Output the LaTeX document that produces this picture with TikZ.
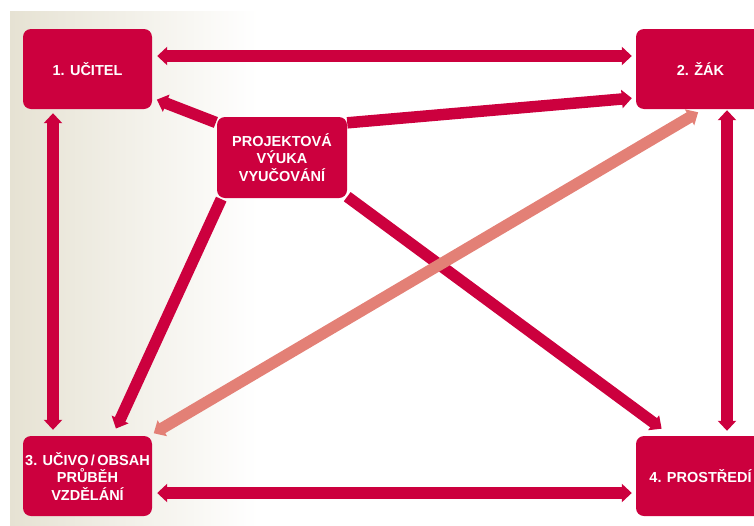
\documentclass[tikz,border=0pt]{standalone}
\usepackage{fontspec}
\setmainfont{Liberation Sans}
\usetikzlibrary{arrows.meta}

\definecolor{crimson}{RGB}{204,0,62}
\definecolor{salmon}{RGB}{227,128,118}
\definecolor{beige}{RGB}{230,226,211}

\begin{document}
\begin{tikzpicture}[
  x=1pt, y=-1pt,
  font=\bfseries\fontsize{14.5}{17.5}\selectfont,
  >={Triangle[width=18pt,length=10pt]},
  box/.style={rectangle, rounded corners=8pt, fill=crimson, text=white, align=center, minimum width=129pt, minimum height=80pt, inner sep=0pt},
  link/.style={line width=11.5pt, draw=crimson, shorten <=4pt, shorten >=4pt},
  softlink/.style={link, draw=salmon}
]
\useasboundingbox (0,0) rectangle (754,525);
\shade[left color=beige, right color=white] (10,11) rectangle (258,525);

\node[box] (ucitel) at (87.5,69) {1. UČITEL};
\node[box] (zak) at (700.5,69) {2. ŽÁK};
\node[box] (ucivo) at (87.5,476) {3. UČIVO\,/\,OBSAH\\PRŮBĚH\\VZDĚLÁNÍ};
\node[box] (prostredi) at (700.5,476) {4. PROSTŘEDÍ};
\node[box, minimum width=130pt, minimum height=81pt] (projekt) at (282,157.5) {PROJEKTOVÁ\\VÝUKA\\VYUČOVÁNÍ};

% frame of the four corners
\draw[link, <->, shorten <=5pt] ([yshift=13pt]ucitel.east) -- ([yshift=13pt]zak.west);
\draw[link, <->, shorten <=5pt] ([yshift=-17pt]ucivo.east) -- ([yshift=-17pt]prostredi.west);
\draw[link, <->, shorten >=6pt] ([xshift=-34.5pt]ucitel.south) -- ([xshift=-34.5pt]ucivo.north);
\draw[link, <->, shorten <=1pt, shorten >=5pt] ([xshift=26.5pt]zak.south) -- ([xshift=26.5pt]prostredi.north);

% from the project box
\draw[link, ->, shorten <=1pt, shorten >=5pt] (projekt.152) -- (ucitel.-24);
\draw[link, ->, shorten <=0pt, shorten >=4pt] (projekt.28) -- (zak.204);
\draw[link, ->, shorten <=1pt, shorten >=8pt] (projekt.214) -- (ucivo.58);
\draw[link, ->, shorten <=0pt, shorten >=12pt] (projekt.-31) -- (prostredi.126);

% student and subject matter
\draw[softlink, <->, shorten <=5pt, shorten >=6pt] (ucivo.33) -- (zak.-86);

\end{tikzpicture}
\end{document}
